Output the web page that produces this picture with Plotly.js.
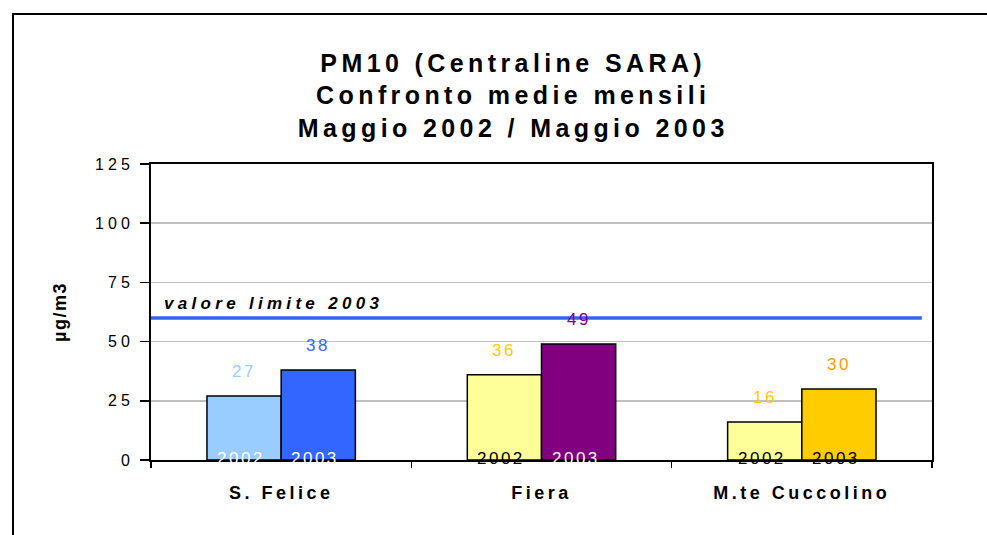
<!DOCTYPE html>
<html><head><meta charset="utf-8">
<script src="https://cdn.plot.ly/plotly-3.0.1.min.js"></script>
<style>
body{margin:0;padding:0;background:#fff;overflow:hidden;}
#chart{width:987px;height:535px;}
#frame{position:absolute;left:12px;top:13px;width:1100px;height:700px;border:2px solid #000;pointer-events:none;}
.gtitle{letter-spacing:4.4px;}
.xtick text{letter-spacing:3.5px;}
.ytick text{letter-spacing:4px;}
.ytitle{letter-spacing:1.5px;}
.annotation-text{letter-spacing:2.5px;}
</style></head>
<body>
<div id="chart"></div>
<div id="frame"></div>
<script>
const categories = ["S. Felice", "Fiera", "M.te Cuccolino"];
const values2002 = [27, 36, 16];
const values2003 = [38, 49, 30];
const colors2002 = ["#99CCFF", "#FFFF99", "#FFFF99"];
const colors2003 = ["#3366FF", "#800080", "#FFCC00"];
const valueLabelColors2002 = ["#99CCFF", "#FFCC00", "#FFCC00"];
const valueLabelColors2003 = ["#3366FF", "#800080", "#FF9900"];
const yearLabelColors2002 = ["#FFFFFF", "#000000", "#000000"];
const yearLabelColors2003 = ["#FFFFFF", "#FFFFFF", "#000000"];
const yearLabels = ["2002", "2003"];
const limitValue = 60;
const limitLabel = "valore limite 2003";

const font = "Liberation Sans, Arial, sans-serif";
const bargap = 0.43;
const barW = (1 - bargap) / 2;

const traces = [
  {type:"bar", x:categories, y:values2002, name:yearLabels[0],
   marker:{color:colors2002, line:{color:"#000", width:1.5}}, hoverinfo:"skip"},
  {type:"bar", x:categories, y:values2003, name:yearLabels[1],
   marker:{color:colors2003, line:{color:"#000", width:1.5}}, hoverinfo:"skip"}
];

const annotations = [];
categories.forEach((c, i) => {
  const x0 = i - barW/2, x1 = i + barW/2;
  annotations.push({x:x0, y:values2002[i], xref:"x", yref:"y", text:String(values2002[i]),
    showarrow:false, yanchor:"bottom", yshift:13, font:{family:font, size:17, color:valueLabelColors2002[i]}});
  annotations.push({x:x1, y:values2003[i], xref:"x", yref:"y", text:String(values2003[i]),
    showarrow:false, yanchor:"bottom", yshift:13, font:{family:font, size:17, color:valueLabelColors2003[i]}});
  annotations.push({x:x0, y:0, xref:"x", yref:"y", text:yearLabels[0],
    showarrow:false, xshift:-3, yanchor:"middle", yshift:2, font:{family:font, size:17, color:yearLabelColors2002[i]}});
  annotations.push({x:x1, y:0, xref:"x", yref:"y", text:yearLabels[1],
    showarrow:false, xshift:-3, yanchor:"middle", yshift:2, font:{family:font, size:17, color:yearLabelColors2003[i]}});
});
annotations.push({x:0.014, y:limitValue, xref:"paper", yref:"y",
  text:'<span style="letter-spacing:4.3px"><b><i>'+limitLabel+'</i></b></span>',
  showarrow:false, xanchor:"left", yanchor:"bottom", yshift:3, font:{family:font, size:17, color:"#000"}});

const layout = {
  width:987, height:535,
  margin:{l:151, r:55, t:164, b:75},
  paper_bgcolor:"#fff", plot_bgcolor:"#fff",
  showlegend:false,
  barmode:"group", bargap:bargap, bargroupgap:0,
  title:{text:"<b>PM10 (Centraline SARA)<br>Confronto medie mensili<br>Maggio 2002 / Maggio 2003</b>",
    x:0.52, xanchor:"center", y:0.866, yanchor:"top",
    font:{family:font, size:25, color:"#000"}},
  xaxis:{type:"category", tickson:"boundaries", ticks:"outside", ticklen:6, tickwidth:1.5, tickcolor:"#000",
    showline:true, linecolor:"#000", linewidth:2, mirror:true, showgrid:false,
    ticklabelstandoff:15,
    tickfont:{family:font, size:18, color:"#000", weight:"bold"}},
  yaxis:{range:[0,125], dtick:25, ticks:"outside", ticklen:9, tickwidth:1.5, tickcolor:"#000",
    showline:true, linecolor:"#000", linewidth:2, mirror:true,
    showgrid:true, gridcolor:"#C0C0C0", gridwidth:1.5, zeroline:false,
    ticklabelstandoff:3,
    tickfont:{family:font, size:16, color:"#000"},
    title:{text:"<b>µg/m3</b>", standoff:24, font:{family:font, size:18, color:"#000"}}},
  shapes:[{type:"line", xref:"paper", yref:"y", x0:0, x1:0.987, y0:limitValue, y1:limitValue,
    line:{color:"#3366EE", width:3.5}}],
  annotations:annotations
};

Plotly.newPlot("chart", traces, layout, {displayModeBar:false, staticPlot:true});
</script>
</body></html>
